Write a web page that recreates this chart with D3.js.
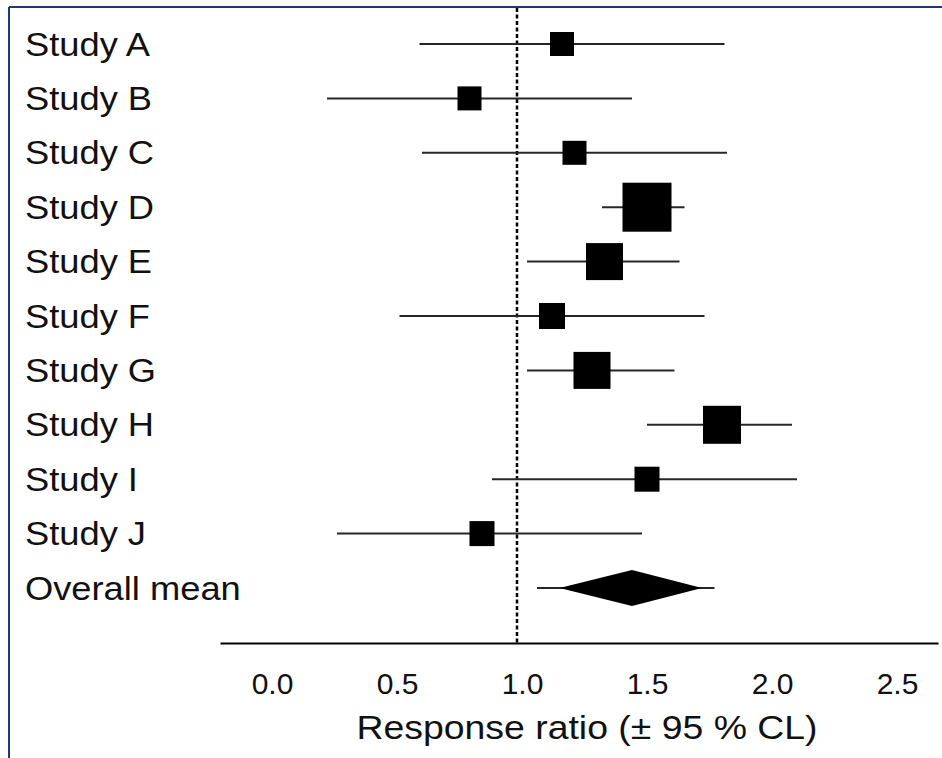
<!DOCTYPE html>
<html>
<head>
<meta charset="utf-8">
<script src="https://cdn.jsdelivr.net/npm/d3@7"></script>
<style>
  body { margin: 0; background: #fff; }
  text { font-family: "Liberation Sans", Arial, sans-serif; fill: #111; }
</style>
</head>
<body>
<div class="chart"></div>
<script>
// study labels, top to bottom
var studies = ["Study A", "Study B", "Study C", "Study D", "Study E",
               "Study F", "Study G", "Study H", "Study I", "Study J"];
// response ratio and its 95 % limits
var ratio = [1.18, 0.81, 1.23, 1.52, 1.35, 1.14, 1.30, 1.82, 1.52, 0.86];
var lower = [0.61, 0.24, 0.62, 1.34, 1.04, 0.53, 1.04, 1.52, 0.90, 0.28];
var upper = [1.83, 1.46, 1.84, 1.67, 1.65, 1.75, 1.63, 2.10, 2.12, 1.50];
// study weight (drives the square size)
var weight = [24, 24, 24, 49, 37, 26, 37, 38, 25, 25];

// overall mean: diamond and its whiskers
var overallLabel = "Overall mean";
var overall = {mean: 1.46, lo: 1.17, hi: 1.74, wlo: 1.08, whi: 1.79};

var xTicks = [0.0, 0.5, 1.0, 1.5, 2.0, 2.5];
var refValue = 1.0;

var svgWidth = 942, svgHeight = 758;

var svg = d3.select(".chart").append("svg")
  .attr("width", svgWidth)
  .attr("height", svgHeight);

// frame (top and left edges only)
svg.append("line").attr("x1", 9).attr("x2", svgWidth).attr("y1", 7).attr("y2", 7)
  .attr("stroke", "#1c3a72").attr("stroke-width", 2);
svg.append("line").attr("x1", 9).attr("x2", 9).attr("y1", 7).attr("y2", svgHeight)
  .attr("stroke", "#1c3a72").attr("stroke-width", 2);

var rows = studies.concat([overallLabel]);

var x = d3.scaleLinear()
  .domain([-0.188, 2.684])
  .range([220, 938]);

var y = d3.scalePoint()
  .domain(rows)
  .range([44, 588]);

var axisY = 643;

// row labels (the source text is a little stretched sideways)
svg.selectAll(".rowLabel")
  .data(rows)
  .enter()
  .append("text")
  .attr("class", "rowLabel")
  .attr("transform", d => `translate(25, ${y(d)}) scale(1.1, 1)`)
  .attr("dy", "0.35em")
  .attr("font-size", 33)
  .text(d => d);

// reference line at 1
svg.append("line")
  .attr("x1", x(refValue)).attr("x2", x(refValue))
  .attr("y1", 8).attr("y2", axisY)
  .attr("stroke", "#000")
  .attr("stroke-width", 2.5)
  .attr("stroke-dasharray", "4,2.5");

var data = studies.map(function(s, i) {
  return {name: s, ratio: ratio[i], lo: lower[i], hi: upper[i], w: weight[i]};
});

// confidence intervals
svg.selectAll(".ci")
  .data(data)
  .enter()
  .append("line")
  .attr("class", "ci")
  .attr("x1", d => x(d.lo))
  .attr("x2", d => x(d.hi))
  .attr("y1", d => y(d.name))
  .attr("y2", d => y(d.name))
  .attr("stroke", "#262626")
  .attr("stroke-width", 2);

// squares
svg.selectAll(".box")
  .data(data)
  .enter()
  .append("rect")
  .attr("class", "box")
  .attr("x", d => x(d.ratio) - d.w / 2)
  .attr("y", d => y(d.name) - d.w / 2)
  .attr("width", d => d.w)
  .attr("height", d => d.w)
  .attr("fill", "#000");

// overall mean
var oy = y(overallLabel);
svg.append("line")
  .attr("x1", x(overall.wlo)).attr("x2", x(overall.whi))
  .attr("y1", oy).attr("y2", oy)
  .attr("stroke", "#262626").attr("stroke-width", 2);
svg.append("path")
  .attr("d", d3.line()([
    [x(overall.lo), oy], [x(overall.mean), oy - 18],
    [x(overall.hi), oy], [x(overall.mean), oy + 18]
  ]) + "Z")
  .attr("fill", "#000");

// x axis
var xAxis = d3.axisBottom(x)
  .tickValues(xTicks)
  .tickFormat(d3.format(".1f"))
  .tickSize(0)
  .tickPadding(30);

var axisG = svg.append("g")
  .attr("transform", `translate(0, ${axisY})`)
  .call(xAxis);
axisG.select(".domain").attr("stroke", "#000").attr("stroke-width", 2);
axisG.selectAll(".tick text")
  .attr("font-size", 30)
  .attr("dx", 5)
  .attr("fill", "#111")
  .style("font-family", "Liberation Sans, Arial, sans-serif");

svg.append("text")
  .attr("transform", "translate(587, 739) scale(1.1, 1)")
  .attr("text-anchor", "middle")
  .attr("font-size", 34)
  .text("Response ratio (\u00b1 95 % CL)");
</script>
</body>
</html>
